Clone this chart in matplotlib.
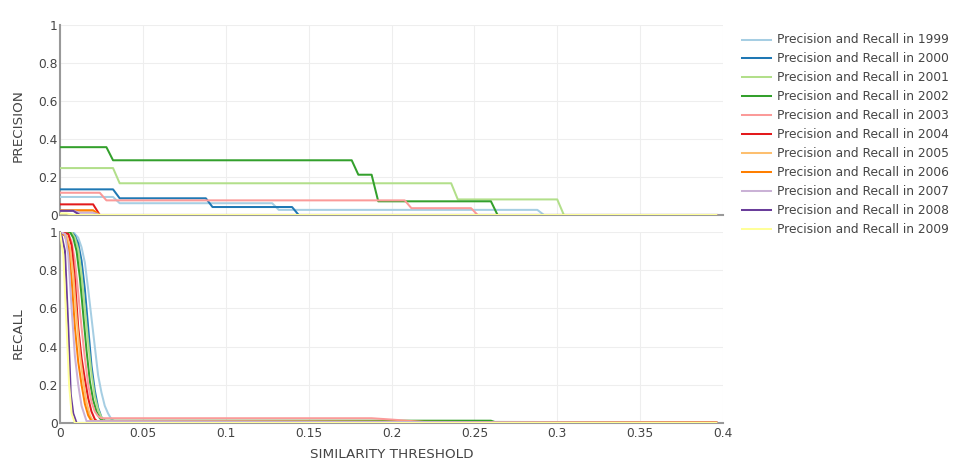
import matplotlib
matplotlib.use("Agg")
import matplotlib.pyplot as plt
from matplotlib.lines import Line2D

plt.rcParams['font.family'] = ['DejaVu Sans']

years = ["1999", "2000", "2001", "2002", "2003", "2004", "2005", "2006", "2007", "2008", "2009"]
colors = ['#a6cee3', '#1f78b4', '#b2df8a', '#33a02c', '#fb9a99', '#e31a1c',
          '#fdbf6f', '#ff7f00', '#cab2d6', '#6a3d9a', '#ffff99']

# ---- Precision (step-like curves), breakpoints ----
prec_x_1999 = [0, 0.032, 0.036, 0.128, 0.132, 0.288, 0.292, 0.396]
prec_y_1999 = [0.095, 0.095, 0.062, 0.062, 0.027, 0.027, 0, 0]
prec_x_2000 = [0, 0.032, 0.036, 0.088, 0.092, 0.140, 0.144, 0.396]
prec_y_2000 = [0.135, 0.135, 0.088, 0.088, 0.042, 0.042, 0, 0]
prec_x_2001 = [0, 0.032, 0.036, 0.236, 0.240, 0.300, 0.304, 0.396]
prec_y_2001 = [0.247, 0.247, 0.167, 0.167, 0.082, 0.082, 0, 0]
prec_x_2002 = [0, 0.028, 0.032, 0.176, 0.180, 0.188, 0.192, 0.260, 0.264, 0.396]
prec_y_2002 = [0.357, 0.357, 0.288, 0.288, 0.212, 0.212, 0.072, 0.072, 0, 0]
prec_x_2003 = [0, 0.024, 0.028, 0.208, 0.212, 0.248, 0.252, 0.396]
prec_y_2003 = [0.117, 0.117, 0.077, 0.077, 0.036, 0.036, 0, 0]
prec_x_2004 = [0, 0.020, 0.024, 0.396]
prec_y_2004 = [0.056, 0.056, 0, 0]
prec_x_2005 = [0, 0.020, 0.024, 0.396]
prec_y_2005 = [0.022, 0.022, 0, 0]
prec_x_2006 = [0, 0.020, 0.024, 0.396]
prec_y_2006 = [0.025, 0.025, 0, 0]
prec_x_2007 = [0, 0.008, 0.012, 0.020, 0.024, 0.396]
prec_y_2007 = [0.022, 0.022, 0.012, 0.012, 0, 0]
prec_x_2008 = [0, 0.008, 0.012, 0.396]
prec_y_2008 = [0.022, 0.022, 0, 0]
prec_x_2009 = [0, 0.004, 0.008, 0.396]
prec_y_2009 = [0.008, 0.008, 0, 0]

# ---- Recall curves ----
rec_x_1999 = [0, 0.008, 0.011, 0.013, 0.015, 0.017, 0.019, 0.021, 0.023, 0.025, 0.027, 0.029, 0.031, 0.033, 0.396]
rec_y_1999 = [1, 1, 0.97, 0.92, 0.84, 0.70, 0.55, 0.40, 0.25, 0.16, 0.09, 0.05, 0.02, 0.008, 0.004]
rec_x_2000 = [0, 0.007, 0.009, 0.011, 0.013, 0.015, 0.017, 0.019, 0.021, 0.023, 0.025, 0.027, 0.029, 0.140, 0.144, 0.396]
rec_y_2000 = [1, 1, 0.98, 0.94, 0.85, 0.70, 0.50, 0.30, 0.17, 0.08, 0.03, 0.012, 0.006, 0.006, 0, 0]
rec_x_2001 = [0, 0.007, 0.009, 0.011, 0.013, 0.015, 0.017, 0.019, 0.021, 0.023, 0.025, 0.027, 0.300, 0.304, 0.396]
rec_y_2001 = [1, 1, 0.97, 0.91, 0.78, 0.60, 0.42, 0.26, 0.14, 0.07, 0.03, 0.009, 0.005, 0, 0]
rec_x_2002 = [0, 0.006, 0.008, 0.010, 0.012, 0.014, 0.016, 0.018, 0.020, 0.022, 0.024, 0.026, 0.260, 0.264, 0.396]
rec_y_2002 = [1, 1, 0.97, 0.90, 0.76, 0.57, 0.38, 0.22, 0.12, 0.06, 0.025, 0.012, 0.012, 0, 0]
rec_x_2003 = [0, 0.005, 0.007, 0.009, 0.011, 0.013, 0.015, 0.017, 0.019, 0.021, 0.023, 0.025, 0.188, 0.200, 0.220, 0.396]
rec_y_2003 = [1, 0.99, 0.95, 0.85, 0.68, 0.50, 0.34, 0.20, 0.11, 0.06, 0.035, 0.025, 0.025, 0.018, 0.005, 0.002]
rec_x_2004 = [0, 0.005, 0.007, 0.009, 0.011, 0.013, 0.015, 0.017, 0.019, 0.021, 0.023, 0.396]
rec_y_2004 = [1, 0.99, 0.93, 0.75, 0.50, 0.34, 0.23, 0.13, 0.06, 0.02, 0.005, 0.002]
rec_x_2005 = [0, 0.004, 0.006, 0.008, 0.010, 0.012, 0.014, 0.016, 0.018, 0.020, 0.396]
rec_y_2005 = [1, 0.98, 0.92, 0.78, 0.55, 0.36, 0.22, 0.11, 0.04, 0.01, 0.002]
rec_x_2006 = [0, 0.003, 0.005, 0.007, 0.009, 0.011, 0.013, 0.015, 0.017, 0.019, 0.396]
rec_y_2006 = [1, 0.98, 0.92, 0.75, 0.50, 0.32, 0.20, 0.10, 0.04, 0.01, 0.002]
rec_x_2007 = [0, 0.003, 0.005, 0.007, 0.009, 0.011, 0.013, 0.016, 0.396]
rec_y_2007 = [1, 0.99, 0.88, 0.60, 0.35, 0.20, 0.09, 0.01, 0.001]
rec_x_2008 = [0, 0.001, 0.003, 0.005, 0.0065, 0.008, 0.010, 0.396]
rec_y_2008 = [1, 0.98, 0.90, 0.50, 0.15, 0.05, 0, 0]
rec_x_2009 = [0, 0.002, 0.004, 0.0055, 0.007, 0.009, 0.396]
rec_y_2009 = [1, 0.88, 0.50, 0.20, 0.05, 0, 0]

prec_x = [prec_x_1999, prec_x_2000, prec_x_2001, prec_x_2002, prec_x_2003, prec_x_2004,
          prec_x_2005, prec_x_2006, prec_x_2007, prec_x_2008, prec_x_2009]
prec_y = [prec_y_1999, prec_y_2000, prec_y_2001, prec_y_2002, prec_y_2003, prec_y_2004,
          prec_y_2005, prec_y_2006, prec_y_2007, prec_y_2008, prec_y_2009]
rec_x = [rec_x_1999, rec_x_2000, rec_x_2001, rec_x_2002, rec_x_2003, rec_x_2004,
         rec_x_2005, rec_x_2006, rec_x_2007, rec_x_2008, rec_x_2009]
rec_y = [rec_y_1999, rec_y_2000, rec_y_2001, rec_y_2002, rec_y_2003, rec_y_2004,
         rec_y_2005, rec_y_2006, rec_y_2007, rec_y_2008, rec_y_2009]

x_ticks = [0, 0.05, 0.1, 0.15, 0.2, 0.25, 0.3, 0.35, 0.4]
x_tick_labels = ["0", "0.05", "0.1", "0.15", "0.2", "0.25", "0.3", "0.35", "0.4"]
y_ticks = [0, 0.2, 0.4, 0.6, 0.8, 1]
y_tick_labels = ["0", "0.2", "0.4", "0.6", "0.8", "1"]

W, H = 974, 463
fig = plt.figure(figsize=(W / 100, H / 100), dpi=100)
fig.patch.set_facecolor('white')

def fx(px):
    return px / W

def fy(py):
    return 1 - py / H

L, R = 60, 723
ax_p = fig.add_axes([fx(L), fy(215), fx(R - L), (215 - 25) / H])
ax_r = fig.add_axes([fx(L), fy(423), fx(R - L), (423 - 232) / H], sharex=ax_p)

TXT = '#444444'
LW = 1.45
for ax in (ax_p, ax_r):
    ax.set_xlim(0, 0.4)
    ax.set_ylim(0, 1)
    ax.set_yticks(y_ticks)
    ax.set_yticklabels(y_tick_labels)
    ax.set_xticks(x_ticks)
    ax.grid(True, color='#eeeeee', linewidth=0.75)
    ax.set_axisbelow(True)
    for s in ('top', 'right'):
        ax.spines[s].set_visible(False)
    for s in ('left', 'bottom'):
        ax.spines[s].set_color('#999999')
        ax.spines[s].set_linewidth(1.5)
    ax.tick_params(axis='both', length=0, labelsize=8.8, labelcolor=TXT)
    ax.tick_params(axis='y', pad=1.5)
    ax.tick_params(axis='x', pad=3)

ax_r.set_xticklabels(x_tick_labels)
ax_p.tick_params(axis='x', labelbottom=False)

for i in range(len(years)):
    ax_p.plot(prec_x[i], prec_y[i], color=colors[i], linewidth=LW,
              solid_joinstyle='round', zorder=3)
    ax_r.plot(rec_x[i], rec_y[i], color=colors[i], linewidth=LW,
              solid_joinstyle='round', zorder=3)

# axis titles
fig.text(fx(18.5), fy(126), "PRECISION", rotation=90, ha='center', va='center',
         fontsize=9.7, color=TXT)
fig.text(fx(18.5), fy(333), "RECALL", rotation=90, ha='center', va='center',
         fontsize=9.7, color=TXT)
fig.text(fx(392), fy(454), "SIMILARITY THRESHOLD", ha='center', va='center',
         fontsize=9.7, color=TXT)

# legend
for i, yr in enumerate(years):
    yy = 39.5 + i * 18.97
    fig.add_artist(Line2D([fx(742), fx(771)], [fy(yy), fy(yy)], transform=fig.transFigure,
                          color=colors[i], linewidth=LW))
    fig.text(fx(777), fy(yy), "Precision and Recall in " + yr, ha='left', va='center',
             fontsize=8.8, color=TXT)

fig.savefig("out.png", dpi=100, facecolor='white')
